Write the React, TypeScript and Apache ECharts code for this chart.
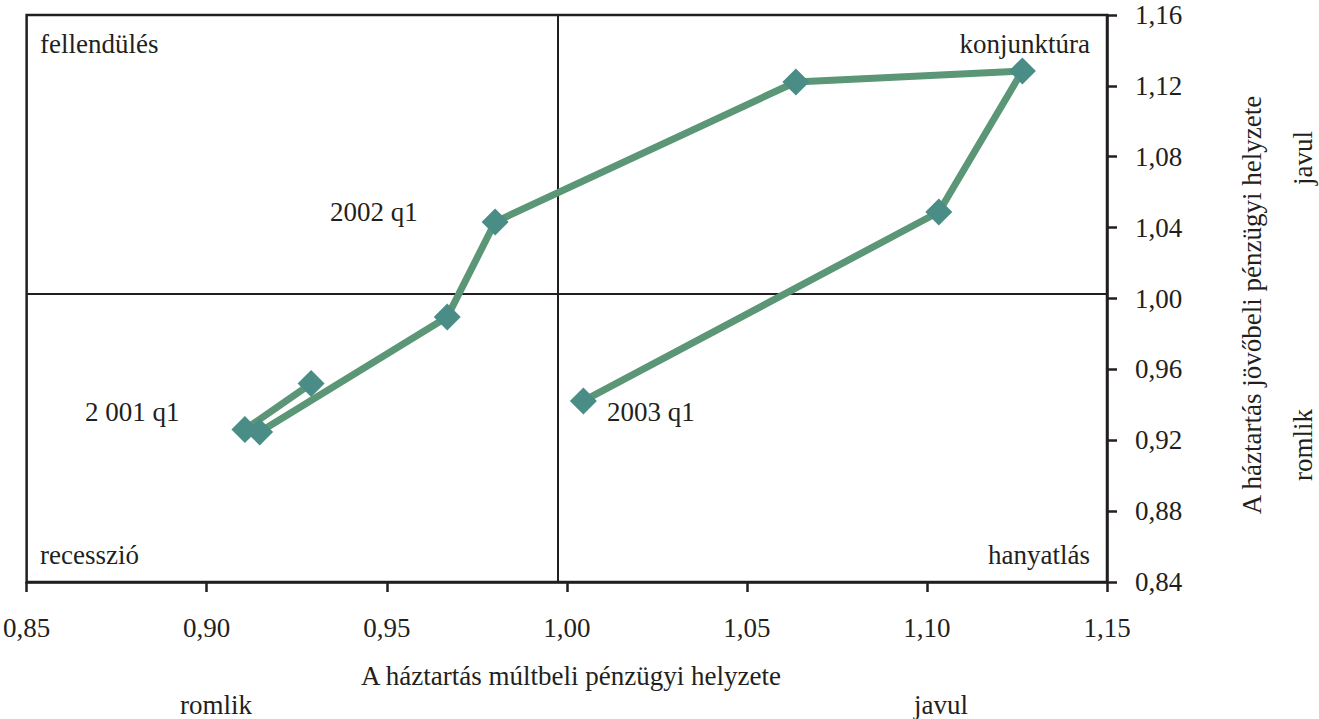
import React, { useEffect, useRef } from "react";
import * as echarts from "echarts";

// Data: household past financial situation (x) vs expected future situation (y), quarterly 2001 q1 – 2003 q1
const quarters = ["2001 q1", "2001 q2", "2001 q3", "2001 q4", "2002 q1", "2002 q2", "2002 q3", "2002 q4", "2003 q1"];
const pastSituation = [0.929, 0.9106, 0.9147, 0.9668, 0.9801, 1.0636, 1.1265, 1.1033, 1.0046];
const futureSituation = [0.952, 0.926, 0.9247, 0.9896, 1.0432, 1.1222, 1.1284, 1.0488, 0.9422];
const dividerX = 0.9975;
const dividerY = 1.0025;

const FONT = "'Liberation Serif', 'Times New Roman', serif";
const INK = "#231f20";
const FS = 27;

export default function App() {
  const ref = useRef<HTMLDivElement>(null);
  useEffect(() => {
    if (!ref.current) return;
    const chart = echarts.init(ref.current, undefined, { renderer: "svg" });
    const fmt = (v: number) => v.toFixed(2).replace(".", ",");
    const txt = (text: string, x: number, y: number, align: string, extra: any = {}) => ({
      type: "text",
      x,
      y,
      ...extra,
      style: {
        text,
        fill: INK,
        font: `${FS}px ${FONT}`,
        textAlign: align,
        textVerticalAlign: "middle",
      },
    });
    chart.setOption({
      animation: false,
      backgroundColor: "#ffffff",
      grid: {
        left: 24,
        right: 212,
        top: 15,
        bottom: 137,
        show: true,
        borderColor: INK,
        borderWidth: 2.5,
        backgroundColor: "transparent",
      },
      xAxis: {
        type: "value",
        min: 0.85,
        max: 1.15,
        interval: 0.05,
        axisLine: { show: true, onZero: false, lineStyle: { color: INK, width: 2.5 } },
        axisTick: { show: true, length: 10, lineStyle: { color: INK, width: 2.5 } },
        splitLine: { show: false },
        axisLabel: { color: INK, fontFamily: FONT, fontSize: FS, margin: 32, formatter: fmt },
      },
      yAxis: {
        type: "value",
        position: "right",
        min: 0.84,
        max: 1.16,
        interval: 0.04,
        axisLine: { show: true, onZero: false, lineStyle: { color: INK, width: 2.5 } },
        axisTick: { show: true, length: 10, lineStyle: { color: INK, width: 2.5 } },
        splitLine: { show: false },
        axisLabel: { color: INK, fontFamily: FONT, fontSize: FS, margin: 28, formatter: fmt },
      },
      series: [
        {
          type: "line",
          data: pastSituation.map((x, i) => ({ value: [x, futureSituation[i]], name: quarters[i] })),
          lineStyle: { color: "#5b9677", width: 7 },
          itemStyle: { color: "#4a8d87" },
          symbol: "diamond",
          symbolSize: 27,
          showAllSymbol: true,
          z: 3,
          markLine: {
            silent: true,
            symbol: "none",
            precision: 4,
            label: { show: false },
            lineStyle: { color: INK, width: 2, type: "solid" },
            data: [{ xAxis: dividerX }, { yAxis: dividerY }],
            z: 1,
          },
        },
      ],
      graphic: [
        txt("fellendülés", 40, 44, "left"),
        txt("konjunktúra", 1090, 44, "right"),
        txt("recesszió", 40, 555, "left"),
        txt("hanyatlás", 1090, 555, "right"),
        txt("2002 q1", 330, 212, "left"),
        txt("2 001 q1", 85, 412, "left"),
        txt("2003 q1", 607, 412, "left"),
        txt("A háztartás múltbeli pénzügyi helyzete", 571, 676, "center"),
        txt("romlik", 216, 705, "center"),
        txt("javul", 941, 705, "center"),
        txt("A háztartás jövőbeli pénzügyi helyzete", 1252, 305, "center", { rotation: Math.PI / 2 }),
        txt("javul", 1303, 158, "center", { rotation: Math.PI / 2 }),
        txt("romlik", 1303, 445, "center", { rotation: Math.PI / 2 }),
      ],
    });
    return () => chart.dispose();
  }, []);
  return (
    <div style={{ position: "fixed", left: 0, top: 0, width: 1319, height: 719, background: "#fff" }}>
      <div ref={ref} style={{ width: 1319, height: 719 }} />
    </div>
  );
}
